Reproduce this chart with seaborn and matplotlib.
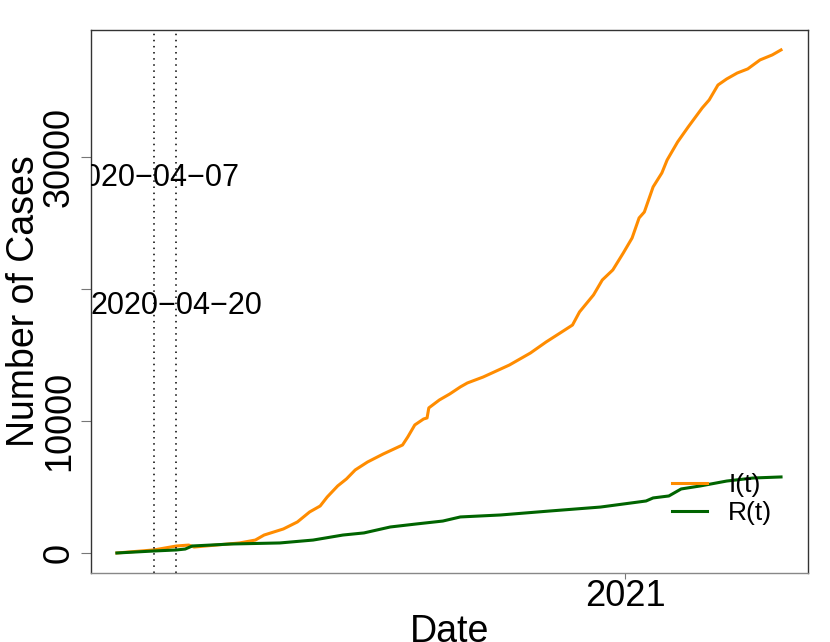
import matplotlib
matplotlib.use("Agg")
import matplotlib.pyplot as plt
import seaborn as sns
import pandas as pd

# values
i_dates = ["2020-03-17", "2020-04-07", "2020-04-20", "2020-04-27", "2020-04-30",
           "2020-05-26", "2020-06-04", "2020-06-09", "2020-06-20", "2020-06-28",
           "2020-07-05", "2020-07-11", "2020-07-15", "2020-07-21", "2020-07-26",
           "2020-07-31", "2020-08-07", "2020-08-16", "2020-08-27", "2020-08-30",
           "2020-09-03", "2020-09-08", "2020-09-10", "2020-09-11", "2020-09-17",
           "2020-09-23", "2020-09-29", "2020-10-03", "2020-10-12", "2020-10-27",
           "2020-11-08", "2020-11-17", "2020-11-25", "2020-12-02", "2020-12-06",
           "2020-12-14", "2020-12-19", "2020-12-25", "2020-12-31", "2021-01-05",
           "2021-01-09", "2021-01-12", "2021-01-17", "2021-01-22", "2021-01-25",
           "2021-01-31", "2021-02-06", "2021-02-14", "2021-02-18", "2021-02-23",
           "2021-02-28", "2021-03-06", "2021-03-12", "2021-03-19", "2021-03-26",
           "2021-03-31"]
i_values = [0, 230, 530, 600, 450,
            760, 980, 1360, 1820, 2350,
            3110, 3560, 4240, 5080, 5610,
            6290, 6890, 7500, 8180, 8790,
            9700, 10150, 10230, 10990, 11590,
            12050, 12580, 12880, 13330, 14240,
            15150, 15990, 16670, 17270, 18260,
            19550, 20680, 21440, 22730, 23860,
            25380, 25830, 27730, 28790, 29770,
            31140, 32270, 33710, 34320, 35450,
            35910, 36360, 36670, 37350, 37730,
            38110]

r_dates = ["2020-03-17", "2020-04-07", "2020-04-20", "2020-04-25", "2020-04-29",
           "2020-05-21", "2020-06-18", "2020-07-07", "2020-07-24", "2020-08-05",
           "2020-08-20", "2020-09-04", "2020-09-19", "2020-09-29", "2020-10-22",
           "2020-11-19", "2020-12-18", "2021-01-13", "2021-01-17", "2021-01-26",
           "2021-02-02", "2021-02-13", "2021-02-28", "2021-03-15", "2021-03-31"]
r_values = [0, 150, 230, 300, 530,
            680, 760, 980, 1360, 1520,
            1970, 2200, 2420, 2730, 2880,
            3180, 3480, 3940, 4170, 4320,
            4850, 5080, 5450, 5680, 5760]

event_dates = ["2020-04-07", "2020-04-20"]
event_label_y = [28400, 18700]

df_i = pd.DataFrame({"date": pd.to_datetime(i_dates), "cases": i_values})
df_r = pd.DataFrame({"date": pd.to_datetime(r_dates), "cases": r_values})

plt.rcParams["font.family"] = ["Liberation Sans", "DejaVu Sans"]

fig = plt.figure(figsize=(8.3, 6.42), dpi=100)
ax = fig.add_axes([0.1096, 0.1075, 0.8639, 0.8458])

sns.lineplot(data=df_i, x="date", y="cases", color="#FF8C00", linewidth=2.2, label="I(t)", ax=ax)
sns.lineplot(data=df_r, x="date", y="cases", color="#006400", linewidth=2.2, label="R(t)", ax=ax)

for d, yy in zip(event_dates, event_label_y):
    ax.axvline(pd.Timestamp(d), color="black", linestyle=(0, (1, 3)), linewidth=1.1)
    # R draws the date hyphens as minus signs
    ax.text(pd.Timestamp(d), yy, d.replace("-", "\u2212"), ha="center", va="center",
            fontsize=22, clip_on=True)

start = pd.Timestamp(i_dates[0])
ax.set_xlim(start - pd.Timedelta(days=14.8), start + pd.Timedelta(days=394.4))
ax.set_ylim(-1515, 39620)

ax.set_yticks([0, 10000, 20000, 30000], labels=["0", "10000", "", "30000"])
ax.set_xticks([pd.Timestamp("2021-01-01")], labels=["2021"])
ax.tick_params(axis="y", labelsize=26, length=7, color="#777777", pad=3, labelrotation=90)
for t in ax.get_yticklabels():
    t.set_va("center")
ax.tick_params(axis="x", labelsize=26, length=4, color="#777777", pad=0)

ax.set_xlabel("Date", fontsize=27, labelpad=0)
ax.set_ylabel("Number of Cases", fontsize=27, labelpad=0)

for side in ["top", "right", "left"]:
    ax.spines[side].set_color("#333333")
ax.spines["bottom"].set_color("#888888")
for s in ax.spines.values():
    s.set_linewidth(1.0)

ax.legend(loc="center left", bbox_to_anchor=(0.795, 0.136), frameon=False, fontsize=19,
          handlelength=1.35, handletextpad=0.8, labelspacing=0.15, borderaxespad=0)

fig.savefig("out.png", dpi=100)
